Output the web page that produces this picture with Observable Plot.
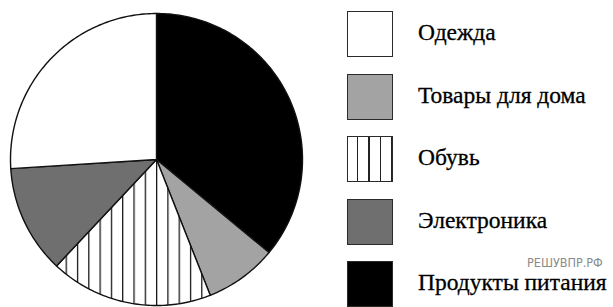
<!DOCTYPE html>
<html>
<head>
<meta charset="utf-8">
<script src="https://cdn.jsdelivr.net/npm/d3@7"></script>
<script src="https://cdn.jsdelivr.net/npm/@observablehq/plot@0.6"></script>
<style>
  html, body { margin: 0; padding: 0; background: #fff; }
  #wrap { position: relative; width: 613px; height: 307px; overflow: hidden; }
  #pie { position: absolute; left: 0; top: 0; }
  .row { position: absolute; left: 347px; }
  .box { position: absolute; left: 0; top: 0; width: 46px; height: 46px; box-sizing: border-box; border: 1.7px solid #2a2a2a; }
  .lab { position: absolute; left: 71px; top: 10px; white-space: nowrap;
         font-family: "Liberation Serif", "Times New Roman", serif; font-size: 23.5px; line-height: 23.5px; color: #000;
         -webkit-text-stroke: 0.3px #000; }
  #wm { position: absolute; left: 527px; top: 257px; font-family: "DejaVu Sans Condensed", "Liberation Sans Narrow", sans-serif;
        font-size: 12.5px; line-height: 12.5px; color: #8a8a8a; }
</style>
</head>
<body>
<div id="wrap"></div>
<script>
// Legend order
const categories = ["Одежда", "Товары для дома", "Обувь", "Электроника", "Продукты питания"];
const values = [26, 8, 18, 12, 36]; // percent
// Order of slices clockwise from 12 o'clock
const sliceOrder = ["Продукты питания", "Товары для дома", "Обувь", "Электроника", "Одежда"];
const fills = ["#ffffff", "#a3a3a3", "url(#stripes)", "#6f6f6f", "#000000"];
const watermark = "РЕШУВПР.РФ";

const valueOf = new Map(categories.map((c, i) => [c, values[i]]));
const total = d3.sum(values);

// Build slice outlines from the data (angle clockwise from top)
const pts = [];
let start = 0;
for (const c of sliceOrder) {
  const a0 = start, a1 = start + valueOf.get(c) / total * 2 * Math.PI;
  const n = Math.max(2, Math.ceil((a1 - a0) / (Math.PI / 180)));
  pts.push({cat: c, x: 0, y: 0});
  for (let k = 0; k <= n; k++) {
    const a = a0 + (a1 - a0) * k / n;
    pts.push({cat: c, x: Math.sin(a), y: Math.cos(a)});
  }
  start = a1;
}

const W = 320, H = 307, R = 146, CX = 156, CY = 159;
const chart = Plot.plot({
  width: W, height: H,
  margin: 0,
  x: {domain: [-CX / R, (W - CX) / R], axis: null},
  y: {domain: [-(H - CY) / R, CY / R], axis: null},
  color: {type: "ordinal", domain: categories, range: fills},
  marks: [
    Plot.line(pts, {x: "x", y: "y", z: "cat", fill: "cat", stroke: "#111", strokeWidth: 1.4,
      curve: "linear-closed", strokeLinejoin: "round"})
  ]
});
chart.id = "pie";
// hatch pattern definition
const defs = document.createElementNS("http://www.w3.org/2000/svg", "defs");
defs.innerHTML = `<pattern id="stripes" patternUnits="userSpaceOnUse" x="${CX - 0.5}" y="0" width="11.3" height="10">
  <rect width="11.3" height="10" fill="#fff"/><line x1="0.6" y1="0" x2="0.6" y2="10" stroke="#111" stroke-width="1.3"/></pattern>`;
chart.insertBefore(defs, chart.firstChild);

const wrap = document.getElementById("wrap");
wrap.appendChild(chart);

// Legend
categories.forEach((c, i) => {
  const row = document.createElement("div");
  row.className = "row";
  row.style.top = (11 + i * 62.5) + "px";
  const box = document.createElement("div");
  box.className = "box";
  const f = fills[i];
  if (f.startsWith("url")) {
    box.style.background = "repeating-linear-gradient(to right, #fff 0px, #fff 9.1px, #222 9.1px, #222 10.5px, #fff 10.5px, #fff 11.3px)";
  } else {
    box.style.background = f;
  }
  const lab = document.createElement("div");
  lab.className = "lab";
  lab.textContent = c;
  row.appendChild(box);
  row.appendChild(lab);
  wrap.appendChild(row);
});
const wm = document.createElement("div");
wm.id = "wm";
wm.textContent = watermark;
wrap.appendChild(wm);
</script>
</body>
</html>
